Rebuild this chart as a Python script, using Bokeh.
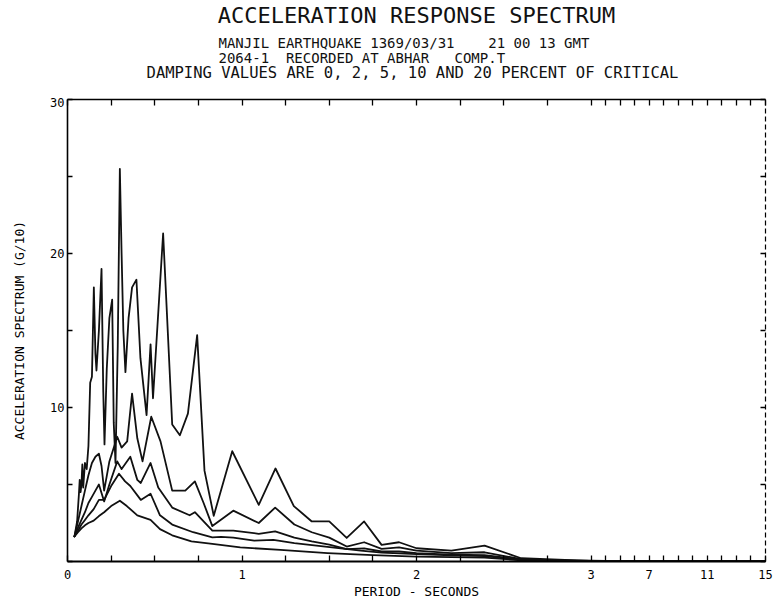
from bokeh.plotting import figure
from bokeh.layouts import column
from bokeh.models import LinearAxis, FixedTicker, CustomJSTickFormatter, Range1d, Label
from bokeh.embed import file_html
from bokeh.resources import INLINE

FONT = "DejaVu Sans Mono"

# ---- data: period (s) and spectral acceleration (g/10) per damping value ----
damping_values = [0, 2, 5, 10, 20]

periods_d0 = [0.04, 0.055, 0.065, 0.07, 0.075, 0.08, 0.085, 0.09, 0.095, 0.10, 0.11, 0.12, 0.13, 0.14,
              0.151, 0.16, 0.166, 0.18, 0.195, 0.205, 0.212, 0.225, 0.24, 0.256, 0.265, 0.275, 0.288,
              0.30, 0.31, 0.32, 0.332, 0.35, 0.37, 0.395, 0.418, 0.453, 0.476, 0.49, 0.548, 0.60,
              0.644, 0.69, 0.743, 0.785, 0.838, 0.944, 1.096, 1.192, 1.297, 1.40, 1.50, 1.60, 1.70,
              1.80, 1.90, 2.0, 2.2, 2.39, 2.6, 2.85, 3.0, 5.0, 9.0, 15.0]
accel_d0 = [1.63, 2.6, 4.3, 5.3, 4.5, 5.0, 6.3, 4.8, 5.6, 6.4, 6.0, 7.5, 11.6, 12.0,
            17.8, 13.5, 12.4, 15.0, 19.0, 11.0, 7.6, 12.5, 15.8, 17.0, 9.0, 6.4, 14.0,
            25.5, 20.0, 15.0, 12.3, 15.8, 17.8, 18.3, 13.2, 9.5, 14.1, 10.6, 21.3, 8.9,
            8.2, 9.6, 14.7, 5.9, 2.97, 7.16, 3.68, 6.04, 3.6, 2.6, 2.6, 1.53, 2.6,
            1.08, 1.25, 0.86, 0.71, 1.03, 0.21, 0.11, 0.06, 0.03, 0.02, 0.02]

periods_d2 = [0.04, 0.06, 0.08, 0.10, 0.12, 0.14, 0.16, 0.18, 0.195, 0.21, 0.24, 0.285, 0.31, 0.342,
              0.37, 0.40, 0.43, 0.48, 0.533, 0.60, 0.675, 0.73, 0.78, 0.83, 0.95, 1.096, 1.19, 1.30,
              1.40, 1.50, 1.60, 1.70, 1.80, 1.90, 2.0, 2.2, 2.39, 2.6, 2.85, 3.0, 15.0]
accel_d2 = [1.63, 2.6, 3.6, 4.6, 5.6, 6.4, 6.8, 7.0, 6.2, 4.6, 6.5, 8.1, 7.4, 7.8,
            10.9, 8.0, 6.5, 9.4, 7.8, 4.6, 4.6, 5.2, 3.8, 2.3, 3.3, 2.5, 3.5, 2.4,
            1.9, 1.55, 0.97, 1.25, 0.82, 0.92, 0.7, 0.55, 0.6, 0.15, 0.06, 0.04, 0.01]

periods_d5 = [0.04, 0.06, 0.08, 0.10, 0.12, 0.14, 0.16, 0.18, 0.21, 0.24, 0.285, 0.31, 0.36, 0.40,
              0.42, 0.45, 0.476, 0.52, 0.60, 0.70, 0.73, 0.78, 0.83, 0.95, 1.096, 1.19, 1.30, 1.40,
              1.50, 1.60, 1.70, 1.80, 1.90, 2.0, 2.2, 2.39, 2.6, 2.85, 3.0, 15.0]
accel_d5 = [1.63, 2.2, 2.7, 3.2, 3.8, 4.2, 4.6, 5.0, 3.9, 5.0, 6.5, 6.0, 6.8, 5.3,
            5.1, 5.8, 6.4, 4.8, 3.5, 3.0, 3.2, 2.6, 2.0, 2.0, 1.8, 1.95, 1.55, 1.3,
            1.1, 0.8, 0.85, 0.65, 0.65, 0.55, 0.45, 0.42, 0.12, 0.05, 0.03, 0.01]

periods_d10 = [0.04, 0.06, 0.08, 0.10, 0.12, 0.15, 0.18, 0.21, 0.25, 0.295, 0.33, 0.36, 0.42, 0.476,
               0.53, 0.60, 0.72, 0.83, 0.88, 0.95, 1.07, 1.18, 1.30, 1.49, 1.68, 1.80, 2.0, 2.2,
               2.39, 2.6, 2.85, 3.0, 15.0]
accel_d10 = [1.63, 2.0, 2.4, 2.7, 3.0, 3.4, 4.0, 4.0, 4.9, 5.7, 5.2, 4.9, 4.0, 4.4,
             3.0, 2.4, 1.9, 1.57, 1.6, 1.55, 1.35, 1.4, 1.2, 0.95, 0.7, 0.58, 0.48, 0.4,
             0.35, 0.1, 0.04, 0.03, 0.01]

periods_d20 = [0.04, 0.06, 0.08, 0.10, 0.12, 0.15, 0.18, 0.21, 0.25, 0.30, 0.34, 0.40, 0.476, 0.53,
               0.60, 0.71, 0.83, 0.99, 1.22, 1.49, 1.75, 2.0, 2.2, 2.39, 2.6, 2.85, 3.0, 15.0]
accel_d20 = [1.63, 1.9, 2.15, 2.35, 2.5, 2.65, 2.95, 3.2, 3.6, 3.95, 3.6, 3.0, 2.7, 2.1,
             1.7, 1.3, 1.14, 0.92, 0.75, 0.55, 0.42, 0.32, 0.28, 0.25, 0.08, 0.03, 0.02, 0.01]

x_tick_periods = [0, 0.25, 0.5, 0.75, 1, 1.25, 1.5, 1.75, 2, 2.25, 2.5, 2.75, 3,
                  4, 5, 6, 7, 8, 9, 10, 11, 12, 13, 14, 15]
x_tick_labels = [0, 1, 2, 3, 7, 11, 15]
y_ticks = [0, 5, 10, 15, 20, 25, 30]
y_tick_labels = [10, 20, 30]

title_text = "ACCELERATION RESPONSE SPECTRUM"
sub1_text = "MANJIL EARTHQUAKE 1369/03/31\u00a0\u00a0\u00a0\u00a021 00 13 GMT"
sub2_text = "2064-1\u00a0\u00a0RECORDED AT ABHAR\u00a0\u00a0\u00a0COMP.T"
sub3_text = "DAMPING VALUES ARE 0, 2, 5, 10 AND 20 PERCENT OF CRITICAL"
x_label = "PERIOD - SECONDS"
y_label = "ACCELERATION SPECTRUM (G/10)"

BORDER_L, BORDER_R = 67, 12
FRAME_W, FRAME_H = 698, 462
HEAD_H = 97


# period axis: linear up to 3 s, then 3..15 s compressed into one unit
def to_axis(periods):
    return [t if t <= 3 else 3 + (t - 3) / 12.0 for t in periods]


# ---------------- header (title block) ----------------
# header frame mirrors the chart frame horizontally; its x range is page pixels
head = figure(frame_width=FRAME_W, frame_height=HEAD_H,
              min_border_left=BORDER_L, min_border_right=BORDER_R,
              min_border_top=0, min_border_bottom=0,
              x_range=Range1d(BORDER_L, BORDER_L + FRAME_W), y_range=Range1d(HEAD_H, 0),
              x_axis_location=None, y_axis_location=None, title=None,
              output_backend="svg", toolbar_location=None)
head.outline_line_color = None
head.grid.visible = False
head.border_fill_color = "white"
head.background_fill_color = "white"

header = [
    # text, x, y, align, size
    (title_text, 416, 15, "center", "22px"),
    (sub1_text, 218, 42, "left", "14px"),
    (sub2_text, 218, 57, "left", "14px"),
    (sub3_text, 412, 72, "center", "15.5px"),
]
for text, hx, hy, align, size in header:
    head.add_layout(Label(x=hx, y=hy, text=text, text_align=align, text_baseline="middle",
                          text_font=FONT, text_font_size=size, text_color="#111111"))

# ---------------- main chart ----------------
p = figure(frame_width=FRAME_W, frame_height=FRAME_H,
           min_border_left=BORDER_L, min_border_right=BORDER_R, min_border_top=2, min_border_bottom=44,
           x_range=Range1d(0, 4), y_range=Range1d(0, 30),
           x_axis_location=None, y_axis_location=None, title=None,
           output_backend="svg", toolbar_location=None)
p.outline_line_color = None
p.grid.visible = False
p.background_fill_color = "white"
p.border_fill_color = "white"

x_fmt = CustomJSTickFormatter(args=dict(labelled=x_tick_labels), code="""
const T = tick <= 3 + 1e-9 ? tick : 3 + (tick - 3) * 12;
const r = Math.round(T);
if (Math.abs(T - r) < 1e-6 && labelled.includes(r)) { return String(r); }
return "";
""")
y_fmt = CustomJSTickFormatter(args=dict(labelled=y_tick_labels), code="""
const r = Math.round(tick);
return labelled.includes(r) ? String(r) : "";
""")
blank_fmt = CustomJSTickFormatter(code="return '';")

x_ticks_axis = to_axis(x_tick_periods)


def style_axis(ax, width=1.6):
    ax.axis_line_color = "black"
    ax.axis_line_width = width
    ax.major_tick_line_color = "black"
    ax.major_tick_line_width = 1.3
    ax.major_tick_out = 0
    ax.minor_tick_in = 0
    ax.minor_tick_out = 0
    ax.major_label_text_font = FONT
    ax.major_label_text_font_size = "12px"
    ax.major_label_text_color = "black"
    ax.axis_label_text_font = FONT
    ax.axis_label_text_font_style = "normal"
    ax.axis_label_text_color = "black"


xb = LinearAxis(ticker=FixedTicker(ticks=x_ticks_axis), formatter=x_fmt, axis_label=x_label)
style_axis(xb, 1.8)
xb.major_tick_in = 6
xb.major_label_standoff = 8
xb.axis_label_standoff = 2
xb.axis_label_text_font_size = "13px"
p.add_layout(xb, "below")

xa = LinearAxis(ticker=FixedTicker(ticks=x_ticks_axis), formatter=blank_fmt)
style_axis(xa, 1.5)
xa.major_tick_in = 6
xa.major_label_standoff = 0
p.add_layout(xa, "above")

yl = LinearAxis(ticker=FixedTicker(ticks=y_ticks), formatter=y_fmt, axis_label=y_label)
style_axis(yl, 1.6)
yl.major_tick_in = 5
yl.major_label_standoff = 3
yl.axis_label_standoff = 20
yl.axis_label_text_font_size = "13px"
p.add_layout(yl, "left")

yr = LinearAxis(ticker=FixedTicker(ticks=y_ticks), formatter=blank_fmt)
style_axis(yr, 1.2)
yr.axis_line_dash = "5 3"
yr.major_tick_in = 5
yr.major_label_standoff = 0
p.add_layout(yr, "right")

curves = [(periods_d0, accel_d0), (periods_d2, accel_d2), (periods_d5, accel_d5),
          (periods_d10, accel_d10), (periods_d20, accel_d20)]
for (per, acc), d in zip(curves, damping_values):
    p.line(to_axis(per), acc, line_color="#111111", line_width=1.8,
           line_join="round", line_cap="round")

layout = column(head, p, spacing=0)
open("out.html", "w").write(file_html(layout, INLINE))
